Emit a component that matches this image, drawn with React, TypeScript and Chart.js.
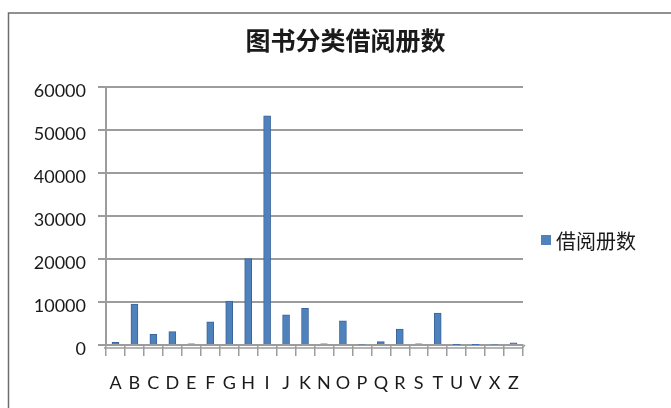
import React, { useEffect, useRef } from "react";
import { Chart, registerables } from "chart.js";

Chart.register(...registerables);

const TITLE = "图书分类借阅册数";
const SERIES_NAME = "借阅册数";
const CATEGORIES = ["A", "B", "C", "D", "E", "F", "G", "H", "I", "J", "K", "N", "O", "P", "Q", "R", "S", "T", "U", "V", "X", "Z"];
const VALUES = [600, 9500, 2500, 3100, 300, 5400, 10200, 20100, 53300, 7000, 8500, 300, 5600, 200, 800, 3700, 300, 7400, 100, 100, 200, 500];
const Y_MIN = 0;
const Y_MAX = 60000;
const Y_STEP = 10000;

const BAR_COLOR = "#4f81bd";
const GRID_COLOR = "#9c9c9c";
const TEXT_COLOR = "#1a1a1a";

const framePlugin = {
  id: "frame",
  beforeDraw(chart: any) {
    const { ctx, width, height } = chart;
    ctx.save();
    ctx.fillStyle = "#ffffff";
    ctx.fillRect(0, 0, width, height);
    ctx.strokeStyle = "#6e6e6e";
    ctx.lineWidth = 1.5;
    ctx.beginPath();
    ctx.moveTo(8.5, height);
    ctx.lineTo(8.5, 13);
    ctx.lineTo(width, 13);
    ctx.stroke();
    ctx.restore();
  },
  afterDraw(chart: any) {
    const { ctx, chartArea, width } = chart;
    const ds = chart.data.datasets[0];
    ctx.save();
    // floor front edge (3D look)
    ctx.strokeStyle = GRID_COLOR;
    ctx.lineWidth = 1.5;
    ctx.beginPath();
    ctx.moveTo(chartArea.left - 2, chartArea.bottom + 3);
    ctx.lineTo(chartArea.right - 1, chartArea.bottom + 3);
    ctx.lineTo(chartArea.right + 2, chartArea.bottom);
    ctx.stroke();
    // title
    ctx.fillStyle = TEXT_COLOR;
    ctx.font = 'bold 25px "Noto Sans CJK SC"';
    ctx.textAlign = "center";
    ctx.textBaseline = "middle";
    ctx.fillText(TITLE, width / 2 + 10, 40);
    // legend
    const lx = 541;
    const ly = 240;
    ctx.fillStyle = ds.backgroundColor;
    ctx.fillRect(lx, ly - 5, 10, 10);
    ctx.fillStyle = TEXT_COLOR;
    ctx.font = '20px "Noto Sans CJK SC"';
    ctx.textBaseline = "middle";
    ctx.textAlign = "left";
    ctx.fillText(ds.label, lx + 15, ly + 1);
    ctx.restore();
  },
};

export default function App() {
  const ref = useRef<HTMLCanvasElement | null>(null);
  useEffect(() => {
    if (!ref.current) return;
    const chart = new Chart(ref.current, {
      type: "bar",
      data: {
        labels: CATEGORIES,
        datasets: [
          {
            label: SERIES_NAME,
            data: VALUES,
            backgroundColor: BAR_COLOR,
            borderColor: "#3a659a",
            borderWidth: 1,
            barThickness: 7,
          },
        ],
      },
      options: {
        responsive: false,
        animation: false,
        devicePixelRatio: 1,
        layout: { padding: { left: 0, right: 148, top: 87, bottom: 0 } },
        plugins: {
          legend: { display: false },
          tooltip: { enabled: false },
          title: { display: false },
        },
        scales: {
          x: {
            offset: true,
            afterFit(scale: any) {
              scale.height = 63;
            },
            grid: {
              offset: true,
              drawOnChartArea: false,
              drawTicks: true,
              tickLength: 11,
              color: GRID_COLOR,
              lineWidth: 1.5,
            },
            border: { display: true, color: GRID_COLOR, width: 2 },
            ticks: {
              color: TEXT_COLOR,
              font: { family: "Lato", size: 18 },
              padding: 16,
              maxRotation: 0,
              autoSkip: false,
            },
          },
          y: {
            min: Y_MIN,
            max: Y_MAX,
            afterFit(scale: any) {
              scale.width = 106;
            },
            grid: {
              color: GRID_COLOR,
              lineWidth: 2,
              drawTicks: true,
              tickLength: 8,
            },
            border: { display: true, color: GRID_COLOR, width: 2 },
            ticks: {
              stepSize: Y_STEP,
              color: TEXT_COLOR,
              font: { family: "Lato", size: 18 },
              padding: 12,
              labelOffset: 4,
              callback: (v: any) => String(v),
            },
          },
        },
      },
      plugins: [framePlugin],
    });
    return () => chart.destroy();
  }, []);
  return (
    <canvas
      ref={ref}
      width={671}
      height={408}
      style={{ position: "fixed", left: 0, top: 0, width: 671, height: 408, display: "block" }}
    />
  );
}
